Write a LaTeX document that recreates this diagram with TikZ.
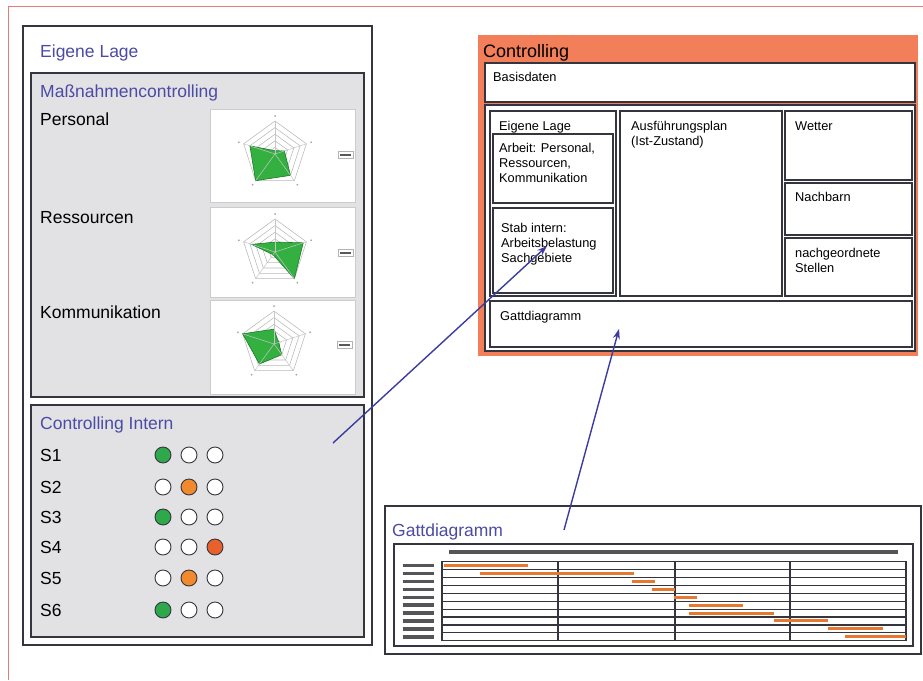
\documentclass[tikz,border=0pt]{standalone}
\usepackage{fontspec}
\setmainfont{Liberation Sans}
\usetikzlibrary{arrows.meta}

\definecolor{framered}{HTML}{E87A7A}
\definecolor{edge}{HTML}{35353F}
\definecolor{titleblue}{HTML}{4B4BA5}
\definecolor{arrowblue}{HTML}{3C3CA0}
\definecolor{panelgray}{HTML}{E2E2E4}
\definecolor{ctrlorange}{HTML}{F27E5A}
\definecolor{lampgreen}{HTML}{2EA84B}
\definecolor{lamporange}{HTML}{F08A2C}
\definecolor{lampred}{HTML}{E8602C}
\definecolor{radargreen}{HTML}{33B040}
\definecolor{radaredge}{HTML}{1F7A2A}
\definecolor{barorange}{HTML}{E8782F}
\definecolor{bargray}{HTML}{555558}

% radar chart: centre x, centre y, values top, right, bottom right, bottom left, left
\newcommand\radarchart[7]{%
  \begin{scope}[shift={(#1,#2)}]
    \foreach \k in {1,...,5} {
      \pgfmathsetmacro\rr{\k*6.6}
      \draw[gray!55, line width=0.55pt]
        (90:\rr pt) -- (18:\rr pt) -- (-54:\rr pt) -- (-126:\rr pt) -- (162:\rr pt) -- cycle;
    }
    \fill[radargreen, draw=radaredge, line width=0.6pt]
      (90:#3*33pt) -- (18:#4*33pt) -- (-54:#5*33pt) -- (-126:#6*33pt) -- (162:#7*33pt) -- cycle;
    \foreach \a in {90,18,-54,-126,162} {
      \draw[gray!45, line width=0.5pt] (0,0) -- (\a:33pt);
      \fill[gray!70] (\a:38pt) circle (1pt);
    }
    \draw[gray!60, fill=white, line width=0.4pt] (63,-3) rectangle (78,4);
    \fill[gray!70!black] (65,0) rectangle (76,1.5);
  \end{scope}}

\begin{document}
\begin{tikzpicture}[x=1pt, y=-1pt,
  panelbox/.style={draw=edge, line width=1.6pt, anchor=north west, inner sep=0pt, outer sep=0pt},
  chartpanel/.style={draw=gray!40, fill=white, line width=0.8pt, anchor=north west, inner sep=0pt},
  lbl/.style={anchor=base west, inner sep=0pt, font=\fontsize{17.5}{20}\selectfont},
  ttl/.style={lbl, text=titleblue},
  smalltext/.style={anchor=base west, inner sep=0pt, font=\fontsize{12.8}{15}\selectfont},
  lamp/.style={circle, draw=edge, line width=0.9pt, minimum size=16pt, inner sep=0pt, fill=white},
  linkarrow/.style={draw=arrowblue, line width=1.4pt, -{Stealth[length=10pt, width=7pt]}},
  barline/.style={line width=3pt, barorange},
]
\useasboundingbox (0,0) rectangle (923,680);
\fill[white] (0,0) rectangle (923,680);

% page frame
\draw[framered, line width=0.9pt] (8,680) -- (8,6) -- (923,6);

% ---------- left column: Eigene Lage ----------
\node[panelbox, fill=white, minimum width=349pt, minimum height=619pt] (lage) at (23,26) {};
\node[ttl] (lageTitle) at (40,57) {Eigene Lage};

\node[panelbox, fill=panelgray, minimum width=333pt, minimum height=324pt] (mass) at (31,73) {};
\node[ttl] (massTitle) at (40,97) {Maßnahmencontrolling};
\node[lbl] (personal) at (40,125) {Personal};
\node[lbl] (ressourcen) at (40,223) {Ressourcen};
\node[lbl] (kommunikation) at (40,318) {Kommunikation};

\node[chartpanel, minimum width=145pt, minimum height=93pt] (chartA) at (210,109) {};
\node[chartpanel, minimum width=145pt, minimum height=90pt] (chartB) at (210,207) {};
\node[chartpanel, minimum width=145pt, minimum height=94pt] (chartC) at (210,300) {};
\radarchart{275}{154}{0.1}{0.3}{0.8}{1.0}{0.8}
\radarchart{275}{252}{0.3}{0.9}{1.0}{0.1}{0.75}
\radarchart{274}{344}{0.45}{0.15}{0.4}{0.75}{1.0}

\node[panelbox, fill=panelgray, minimum width=333pt, minimum height=232pt] (intern) at (31,405) {};
\node[ttl] (internTitle) at (40,429) {Controlling Intern};

\foreach \s/\yc/\ca/\cb/\cc in {1/455/lampgreen/white/white,
                                2/487/white/lamporange/white,
                                3/517/lampgreen/white/white,
                                4/547/white/white/lampred,
                                5/578/white/lamporange/white,
                                6/610/lampgreen/white/white} {
  \node[lbl] (s\s) at (40,\yc+6) {S\s};
  \node[lamp, fill=\ca] (s\s a) at (163,\yc) {};
  \node[lamp, fill=\cb] (s\s b) at (189,\yc) {};
  \node[lamp, fill=\cc] (s\s c) at (215,\yc) {};
}

% ---------- right: Controlling ----------
\node[anchor=north west, fill=ctrlorange, inner sep=0pt, minimum width=440pt, minimum height=321pt] (controlling) at (478,35) {};
\node[lbl, font=\fontsize{18}{20}\selectfont] (controllingTitle) at (483,57) {Controlling};

\node[panelbox, fill=white, minimum width=430pt, minimum height=39pt] (basis) at (485,63) {};
\node[smalltext] (basisText) at (493,81) {Basisdaten};

\node[panelbox, fill=white, minimum width=430pt, minimum height=246pt] (main) at (485,105) {};

\node[panelbox, minimum width=126pt, minimum height=185pt] (innerLage) at (490,111) {};
\node[smalltext] (innerLageText) at (499,130) {Eigene Lage};
\node[panelbox, minimum width=120pt, minimum height=69pt] (arbeit) at (493,134) {};
\node[smalltext] (arbeit1) at (499,152) {Arbeit: Personal,};
\node[smalltext] (arbeit2) at (499,167) {Ressourcen,};
\node[smalltext] (arbeit3) at (499,182) {Kommunikation};
\node[panelbox, minimum width=120pt, minimum height=85pt] (stab) at (493,208) {};
\node[smalltext] (stab1) at (501,232) {Stab intern:};
\node[smalltext] (stab2) at (501,247) {Arbeitsbelastung};
\node[smalltext] (stab3) at (501,262) {Sachgebiete};

\node[panelbox, minimum width=162pt, minimum height=185pt] (plan) at (620,111) {};
\node[smalltext] (plan1) at (631,130) {Ausführungsplan};
\node[smalltext] (plan2) at (631,145) {(Ist-Zustand)};

\node[panelbox, minimum width=127pt, minimum height=69pt] (wetter) at (785,111) {};
\node[smalltext] (wetterText) at (795,130) {Wetter};
\node[panelbox, minimum width=127pt, minimum height=52pt] (nachbarn) at (785,183) {};
\node[smalltext] (nachbarnText) at (795,201) {Nachbarn};
\node[panelbox, minimum width=127pt, minimum height=58pt] (stellen) at (785,238) {};
\node[smalltext] (stellen1) at (795,257) {nachgeordnete};
\node[smalltext] (stellen2) at (795,272) {Stellen};

\node[panelbox, minimum width=422pt, minimum height=46pt] (ganttSlot) at (490,301) {};
\node[smalltext] (ganttSlotText) at (500,320) {Gattdiagramm};

% ---------- bottom right: Gantt chart ----------
\node[panelbox, fill=white, minimum width=536pt, minimum height=148pt] (gantt) at (385,506) {};
\node[ttl] (ganttTitle) at (392,536) {Gattdiagramm};
\node[panelbox, line width=1.3pt, minimum width=519pt, minimum height=102pt] (ganttChart) at (394,544) {};

\draw[line width=4pt, bargray] (449,552) -- (898,552);
\draw[edge, line width=1.2pt] (442,561.7) rectangle (906,640.7);
\foreach \i in {1,...,9} {
  \pgfmathsetmacro\yy{561.7+\i*7.9}
  \draw[edge, line width=1.2pt] (442,\yy) -- (906,\yy);
}
\foreach \xx in {558,675,790}
  \draw[edge, line width=1.2pt] (\xx,561.7) -- (\xx,640.7);
\foreach \i in {0,...,9} {
  \pgfmathsetmacro\yy{561.7+(\i+0.5)*7.9}
  \draw[line width=3.5pt, bargray] (402.5,\yy) -- (433.7,\yy);
}
\foreach \a/\b [count=\i from 0] in {444/528, 480/634, 632/655, 652/675, 674/697,
                                     689/743, 689/774, 774/828, 828/883, 845/906} {
  \pgfmathsetmacro\yy{561.7+(\i+0.5)*7.9}
  \draw[barline] (\a,\yy) -- (\b,\yy);
}

% ---------- connectors ----------
\coordinate (internPick) at (333,443);
\coordinate (stabPick) at (547,246);
\coordinate (ganttPick) at (564,530);
\coordinate (slotPick) at (619,329);
\draw[linkarrow] (internPick) -- (stabPick);
\draw[linkarrow] (ganttPick) -- (slotPick);
\end{tikzpicture}
\end{document}
